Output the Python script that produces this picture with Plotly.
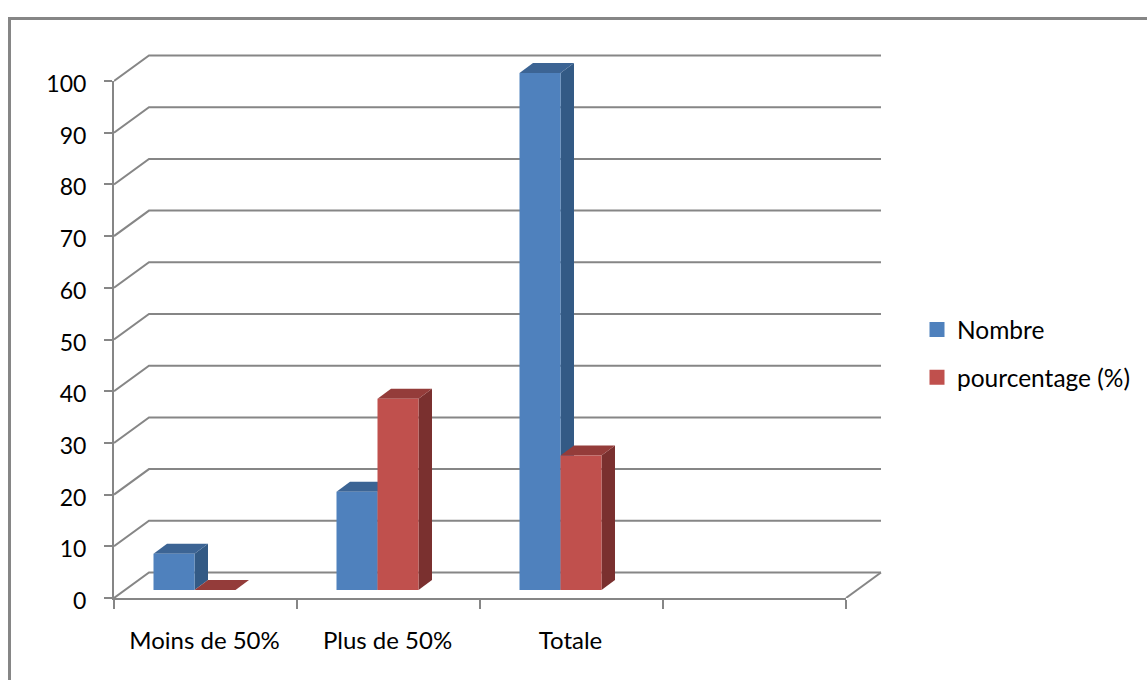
import plotly.graph_objects as go

# Chart data
categories = ["Moins de 50%", "Plus de 50%", "Totale"]
nombre = [7, 19, 100]
pourcentage = [0, 37, 26]
y_ticks = list(range(0, 101, 10))
x_edges = [0, 1, 2, 3, 4]

W, H = 1147, 680
GREY = "#868686"
FONT = "Lato"

# Pixel frame of the front plane of the 3-D box
LEFT, RIGHT, TOP, BOTTOM = 114, 846, 81, 598
PX_X = (RIGHT - LEFT) / 4
PX_Y = (BOTTOM - TOP) / 100

# Oblique offsets, in axis units
WALL_DX, WALL_DY = 35 / PX_X, 25.5 / PX_Y
BAR_DX, BAR_DY = 13.5 / PX_X, 10 / PX_Y
BAR_SHIFT_X, BAR_SHIFT_Y = -11, 8
BAR_W = 41 / PX_X

# The box drawing axes extend past the front plane to hold the oblique faces
EXTRA_RIGHT, EXTRA_TOP = 60, 50

centres = [i + 0.5 for i in range(len(categories))]

fig = go.Figure()

# Empty trace that keeps the visible value and category axes on the page
fig.add_trace(go.Scatter(x=centres, y=[None] * len(centres), mode="lines",
                         hoverinfo="skip", showlegend=False))

BOX = dict(xaxis="x2", yaxis="y2", hoverinfo="skip", showlegend=False)

# Back wall, side wall and floor lines
for v in y_ticks:
    fig.add_trace(go.Scatter(
        x=[0, WALL_DX, 4 + WALL_DX], y=[v, v + WALL_DY, v + WALL_DY],
        mode="lines", line=dict(color=GREY, width=2), **BOX))
fig.add_trace(go.Scatter(
    x=[4, 4 + WALL_DX], y=[0, WALL_DY],
    mode="lines", line=dict(color=GREY, width=2), **BOX))


def add_depth_faces(values, slot, side_color, top_color):
    """Right side and top of each column, behind the front faces."""
    for i, v in enumerate(values):
        xl = i + 0.5 + BAR_SHIFT_X / PX_X + (slot - 1) * BAR_W
        xr = xl + BAR_W
        y0 = BAR_SHIFT_Y / PX_Y
        yt = y0 + v
        fig.add_trace(go.Scatter(
            x=[xr, xr + BAR_DX, xr + BAR_DX, xr, xr],
            y=[y0, y0 + BAR_DY, yt + BAR_DY, yt, y0],
            mode="none", fill="toself", fillcolor=side_color, **BOX))
        fig.add_trace(go.Scatter(
            x=[xl, xr, xr + BAR_DX, xl + BAR_DX, xl],
            y=[yt, yt, yt + BAR_DY, yt + BAR_DY, yt],
            mode="none", fill="toself", fillcolor=top_color, **BOX))


add_depth_faces(nombre, 0, "#335A85", "#3C6494")
add_depth_faces(pourcentage, 1, "#7A302F", "#943C3A")

# Front faces, on axes shifted to the middle of the box depth
fig.add_trace(go.Bar(x=centres, y=nombre, xaxis="x3", yaxis="y3", offsetgroup="a",
                     marker=dict(color="#4F81BD", line=dict(width=0)), showlegend=False))
fig.add_trace(go.Bar(x=centres, y=pourcentage, xaxis="x3", yaxis="y3", offsetgroup="b",
                     marker=dict(color="#C0504D", line=dict(width=0)), showlegend=False))

# Legend entries with the larger square swatch
for name, colour, group in [("Nombre", "#4F81BD", "a"), ("pourcentage (%)", "#C0504D", "b")]:
    fig.add_trace(go.Bar(x=[None], y=[None], name=name, xaxis="x3", yaxis="y3",
                         legendgroup=name, offsetgroup=group,
                         marker=dict(color=colour, line=dict(color=colour, width=3))))

fig.update_layout(
    width=W, height=H,
    margin=dict(l=0, r=0, t=0, b=0, autoexpand=False),
    paper_bgcolor="white", plot_bgcolor="rgba(0,0,0,0)",
    font=dict(family=FONT, size=24, color="black"),
    barmode="group", bargap=1 - 2 * BAR_W, bargroupgap=0,
    xaxis=dict(
        domain=[LEFT / W, RIGHT / W], range=[0, 4], anchor="y",
        showgrid=False, zeroline=False, showline=True, linecolor=GREY, linewidth=2,
        tickmode="array", tickvals=centres, ticktext=categories, ticks="",
        ticklabelstandoff=20, ticklabelshift=-1, tickfont=dict(family=FONT, size=24),
        minor=dict(tickmode="array", tickvals=x_edges, ticks="outside",
                   ticklen=9, tickwidth=2, tickcolor=GREY, showgrid=False)),
    yaxis=dict(
        domain=[1 - BOTTOM / H, 1 - TOP / H], range=[0, 100], anchor="x",
        showgrid=False, zeroline=False, showline=True, linecolor=GREY, linewidth=2,
        tickmode="array", tickvals=y_ticks, ticks="outside", ticklen=8,
        tickwidth=2, tickcolor=GREY, ticklabelstandoff=13, ticklabelshift=3,
        tickfont=dict(family=FONT, size=23)),
    xaxis2=dict(
        domain=[LEFT / W, (RIGHT + EXTRA_RIGHT) / W],
        range=[0, 4 + EXTRA_RIGHT / PX_X], anchor="y2", visible=False),
    yaxis2=dict(
        domain=[1 - BOTTOM / H, 1 - (TOP - EXTRA_TOP) / H],
        range=[0, 100 + EXTRA_TOP / PX_Y], anchor="x2", visible=False),
    xaxis3=dict(
        domain=[(LEFT + BAR_SHIFT_X) / W, (RIGHT + BAR_SHIFT_X) / W],
        range=[0, 4], anchor="y3", visible=False),
    yaxis3=dict(
        domain=[1 - (BOTTOM - BAR_SHIFT_Y) / H, 1 - (TOP - BAR_SHIFT_Y) / H],
        range=[0, 100], anchor="x3", visible=False),
    legend=dict(
        x=927 / W, y=1 - 307 / H, xanchor="left", yanchor="top",
        bgcolor="rgba(0,0,0,0)", tracegroupgap=13, indentation=-10,
        font=dict(family=FONT, size=24.5)),
    shapes=[dict(type="path", xref="paper", yref="paper",
                 path=f"M {9.5 / W} 0 L {9.5 / W} {1 - 18.5 / H} L 1 {1 - 18.5 / H}",
                 line=dict(color=GREY, width=3))],
)

fig.write_html("out.html")
